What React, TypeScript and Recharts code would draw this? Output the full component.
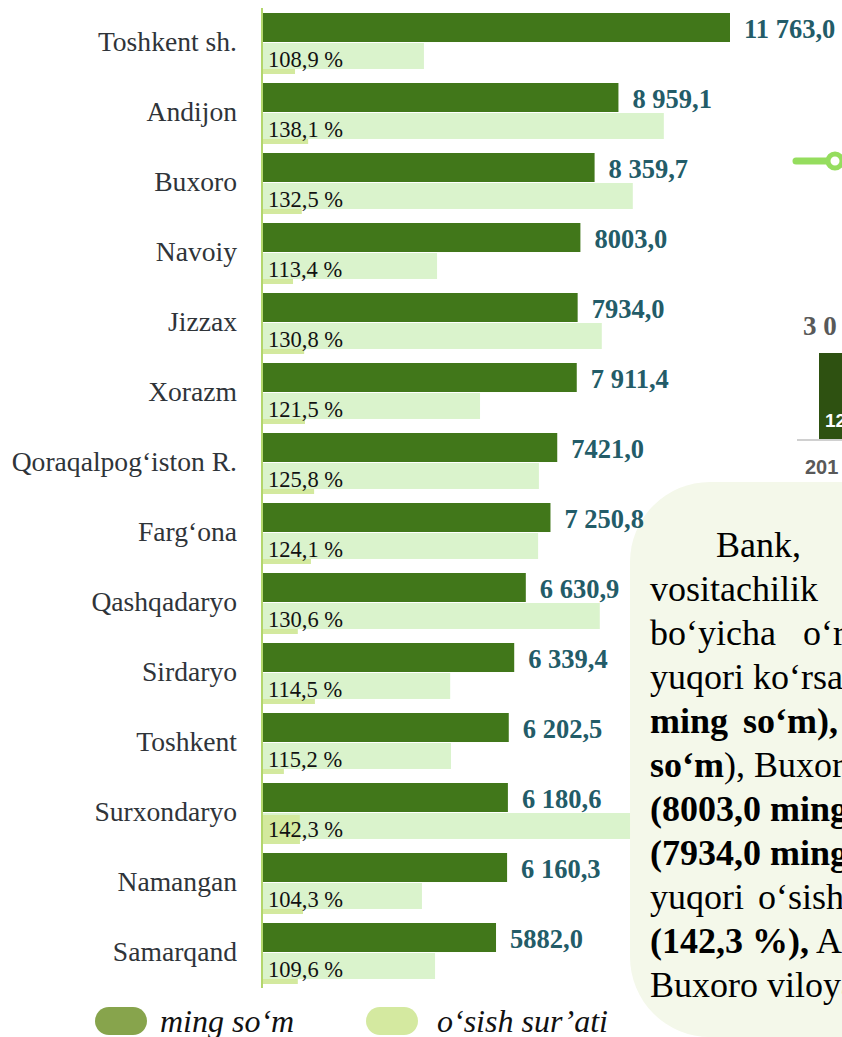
import React from 'react';
import { BarChart, Bar, XAxis, YAxis, LabelList, Legend } from 'recharts';

const SERIF = "'Liberation Serif', 'Times New Roman', serif";
const SANS = "'Liberation Sans', Arial, sans-serif";

// ---- main chart data ----
const regions = [
  'Toshkent sh.', 'Andijon', 'Buxoro', 'Navoiy', 'Jizzax', 'Xorazm', 'Qoraqalpog‘iston R.',
  'Farg‘ona', 'Qashqadaryo', 'Sirdaryo', 'Toshkent', 'Surxondaryo', 'Namangan', 'Samarqand',
];
const mingSom = [11763.0, 8959.1, 8359.7, 8003.0, 7934.0, 7911.4, 7421.0, 7250.8, 6630.9, 6339.4, 6202.5, 6180.6, 6160.3, 5882.0];
const mingSomLabels = ['11 763,0', '8 959,1', '8 359,7', '8003,0', '7934,0', '7 911,4', '7421,0', '7 250,8', '6 630,9', '6 339,4', '6 202,5', '6 180,6', '6 160,3', '5882,0'];
const osishSurati = [108.9, 138.1, 132.5, 113.4, 130.8, 121.5, 125.8, 124.1, 130.6, 114.5, 115.2, 142.3, 104.3, 109.6];
const osishLabels = ['108,9 %', '138,1 %', '132,5 %', '113,4 %', '130,8 %', '121,5 %', '125,8 %', '124,1 %', '130,6 %', '114,5 %', '115,2 %', '142,3 %', '104,3 %', '109,6 %'];
// light growth bars as drawn in the picture (read on the ming so'm scale)
const osishBarLength = [4070, 10100, 9320, 4400, 8540, 5480, 6960, 6940, 8490, 4730, 4750, 9250, 4020, 4350];
// small growth marker bars as drawn (read on the ming so'm scale)
const osishMarker = [830, 1160, 1000, 780, 1060, 1080, 1310, 1230, 900, 1330, 550, 950, 1030, 900];
const xDomain = [0, 14000];

const legendNames = ['ming so‘m', 'o‘sish sur’ati'];
const legendColors = ['#87a44c', '#d4e9a0'];

// ---- fragment of the neighbouring chart (cut by the page edge) ----
const fragYears = ['201'];
const fragValues = [3000];
const fragTopLabels = ['3 0'];
const fragInnerLabels = ['12'];

// ---- text box lines ----
const textLines: { parts: { t: string; b?: boolean }[]; indent?: number; ws?: number }[] = [
  { parts: [{ t: 'Bank,' }], indent: 66 },
  { parts: [{ t: 'vositachilik' }] },
  { parts: [{ t: 'bo‘yicha o‘rtacha' }], ws: 18 },
  { parts: [{ t: 'yuqori ko‘rsatkich' }] },
  { parts: [{ t: 'ming so‘m),', b: true }], ws: 6 },
  { parts: [{ t: 'so‘m', b: true }, { t: '), Buxoro' }] },
  { parts: [{ t: '(8003,0 ming so‘m)', b: true }] },
  { parts: [{ t: '(7934,0 ming so‘m)', b: true }] },
  { parts: [{ t: 'yuqori o‘sish sur’ati' }], ws: 5 },
  { parts: [{ t: '(142,3 %),', b: true }, { t: ' Andijon' }] },
  { parts: [{ t: 'Buxoro viloyati' }] },
];

const maxGrowth = Math.max(...osishSurati);
const data = regions.map((region, i) => ({
  region,
  ming: mingSom[i],
  mingLabel: mingSomLabels[i],
  growth: osishSurati[i],
  growthLabel: osishLabels[i],
  growthBar: osishBarLength[i],
  marker: osishMarker[i],
  markerFront: osishSurati[i] === maxGrowth ? osishMarker[i] : null,
}));

const fragData = fragYears.map((year, i) => ({
  year,
  value: fragValues[i],
  top: fragTopLabels[i],
  inner: fragInnerLabels[i],
}));

const ShiftedBar = (props: any) => {
  const { x, y, width, height, fill } = props;
  if (width == null || !(width > 0) || height == null) return <g />;
  return <rect x={x} y={y + 18} width={width} height={height} fill={fill} />;
};

const ValueLabel = (props: any) => {
  const { x, y, width, height, value } = props;
  return (
    <text x={x + width + 14} y={y + height / 2 + 1} dominantBaseline="central"
      fontFamily={SERIF} fontSize={26.5} fontWeight="bold" fill="#235c68">{value}</text>
  );
};

const PercentLabel = (props: any) => {
  const { x, y, height, value } = props;
  return (
    <text x={x + 6} y={y + height / 2 + 3.5} dominantBaseline="central"
      fontFamily={SERIF} fontSize={22.5} fill="#111">{value}</text>
  );
};

const LegendContent = () => (
  <div style={{ height: 32, display: 'flex', alignItems: 'center', paddingLeft: 95, fontFamily: SERIF, fontStyle: 'italic', fontSize: 32, color: '#111', whiteSpace: 'nowrap' }}>
    <span style={{ flexShrink: 0, width: 52, height: 28, borderRadius: 14, background: legendColors[0], marginRight: 13 }} />
    <span style={{ flexShrink: 0, width: 206 }}>{legendNames[0]}</span>
    <span style={{ flexShrink: 0, width: 52, height: 28, borderRadius: 14, background: legendColors[1], marginRight: 19 }} />
    <span style={{ flexShrink: 0 }}>{legendNames[1]}</span>
  </div>
);

const FragTick = (props: any) => (
  <text x={props.x - 37} y={props.y + 34} fontFamily={SANS} fontWeight="bold" fontSize={20} fill="#595959">{props.payload.value}</text>
);
const FragTopLabel = (props: any) => (
  <text x={props.x + props.width / 2 - 39} y={props.y - 18} fontFamily={SERIF} fontWeight="bold" fontSize={27} fill="#595959">{props.value}</text>
);
const FragInnerLabel = (props: any) => (
  <text x={props.x + 6} y={props.y + props.height - 13} fontFamily={SANS} fontWeight="bold" fontSize={19} fill="#ffffff">{props.value}</text>
);

export default function App() {
  return (
    <div style={{ position: 'absolute', left: 0, top: 0, width: 842, height: 1037, overflow: 'hidden', background: '#fff', fontFamily: SERIF }}>
      {/* text box */}
      <div style={{ position: 'absolute', left: 630, top: 482, width: 400, height: 555, background: '#f4f8ea', borderRadius: 80, paddingTop: 41, paddingLeft: 20, boxSizing: 'border-box', fontFamily: SERIF, fontSize: 36, lineHeight: '44px', color: '#000' }}>
        {textLines.map((ln, i) => (
          <div key={i} style={{ whiteSpace: 'nowrap', paddingLeft: ln.indent || 0, wordSpacing: ln.ws || 0 }}>
            {ln.parts.map((p, j) => (
              <span key={j} style={{ fontWeight: p.b ? 'bold' : 'normal' }}>{p.t}</span>
            ))}
          </div>
        ))}
      </div>

      {/* line-series legend icon of the neighbouring chart */}
      <svg style={{ position: 'absolute', left: 785, top: 148 }} width={60} height={26}>
        <line x1={11} y1={13} x2={42} y2={13} stroke="#95dd5e" strokeWidth={7} strokeLinecap="round" />
        <circle cx={50} cy={13} r={7} fill="#fff" stroke="#95dd5e" strokeWidth={5} />
      </svg>

      {/* neighbouring column chart, cut by the page edge */}
      <div style={{ position: 'absolute', left: 797, top: 300 }}>
        <BarChart width={90} height={175} data={fragData} margin={{ top: 53, right: 0, left: 0, bottom: 0 }}>
          <XAxis dataKey="year" height={35} tickSize={0} tickMargin={0} tickLine={false}
            axisLine={{ stroke: '#d0d0d0', strokeWidth: 2 }} tick={FragTick} />
          <YAxis hide domain={[0, 'dataMax']} />
          <Bar dataKey="value" barSize={46} fill="#2e5111" isAnimationActive={false}>
            <LabelList dataKey="top" content={FragTopLabel} />
            <LabelList dataKey="inner" content={FragInnerLabel} />
          </Bar>
        </BarChart>
      </div>

      {/* main chart, drawn above the text box */}
      <div style={{ position: 'absolute', left: 0, top: 0 }}>
        <BarChart width={842} height={1037} data={data} layout="vertical" barGap={1}
          margin={{ top: 8, right: 23, bottom: 17, left: 0 }}>
          <XAxis type="number" xAxisId="x" domain={xDomain} hide allowDataOverflow />
          <YAxis yAxisId="main" type="category" dataKey="region" width={262} tickSize={0} tickMargin={25}
            axisLine={{ stroke: '#b3d66c', strokeWidth: 2 }} tickLine={false} padding={{ top: -2, bottom: 2 }}
            tick={{ fill: '#2f3439', fontSize: 27.6, fontFamily: SERIF }} interval={0} />
          <YAxis yAxisId="mb" type="category" dataKey="region" hide padding={{ top: -2, bottom: 2 }} />
          <YAxis yAxisId="mf" type="category" dataKey="region" hide padding={{ top: -2, bottom: 2 }} />
          <Bar dataKey="marker" xAxisId="x" yAxisId="mb" barSize={29} fill="#d3e99e" shape={ShiftedBar} isAnimationActive={false} />
          <Bar dataKey="ming" name={legendNames[0]} xAxisId="x" yAxisId="main" barSize={29} fill="#41771a" isAnimationActive={false}>
            <LabelList dataKey="mingLabel" content={ValueLabel} />
          </Bar>
          <Bar dataKey="growthBar" name={legendNames[1]} xAxisId="x" yAxisId="main" barSize={26} fill="#daf3cc" isAnimationActive={false} />
          <Bar dataKey="markerFront" xAxisId="x" yAxisId="mf" barSize={29} fill="#d3e99e" shape={ShiftedBar} isAnimationActive={false} />
          <Bar dataKey="growthBar" xAxisId="x" yAxisId="main" barSize={0} fill="none" isAnimationActive={false} legendType="none">
            <LabelList dataKey="growthLabel" content={PercentLabel} />
          </Bar>
          <Legend content={LegendContent} wrapperStyle={{ left: 0, top: 1005, width: 842 }} />
        </BarChart>
      </div>
    </div>
  );
}
